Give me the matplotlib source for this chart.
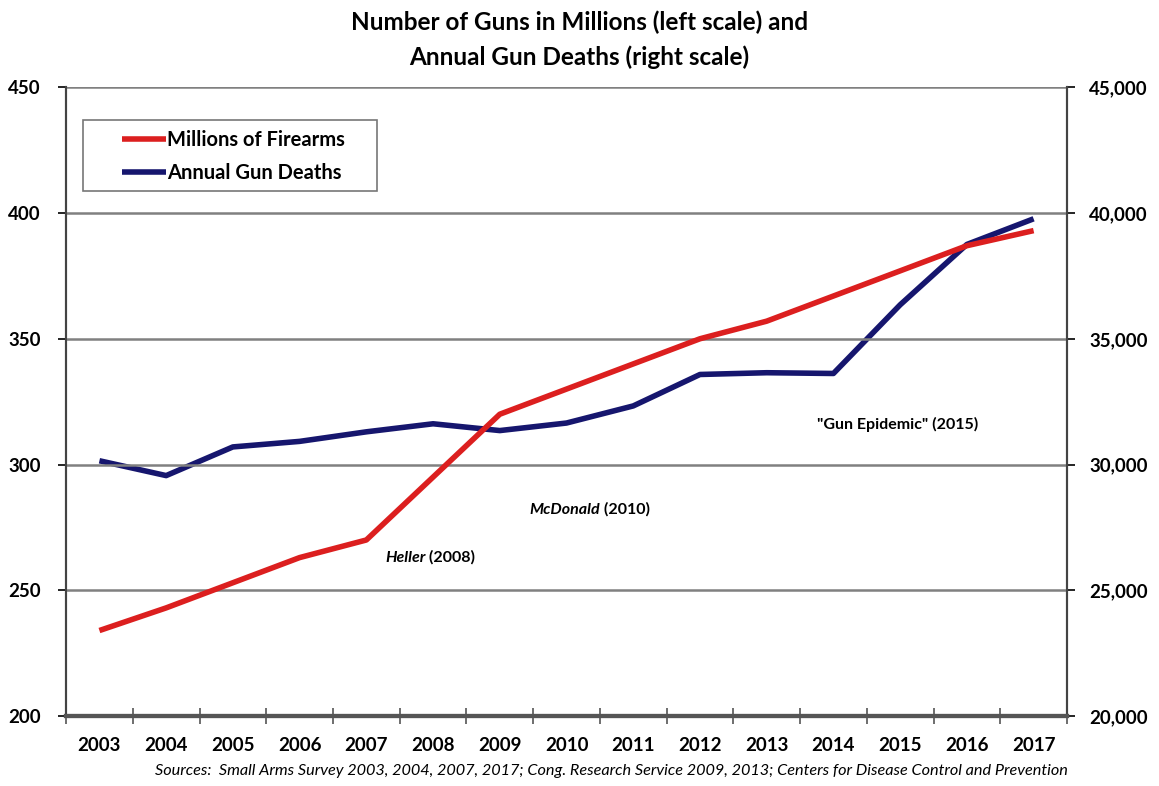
import numpy as np
import matplotlib.pyplot as plt
from matplotlib.patches import Rectangle

plt.rcParams['font.family'] = ['Lato', 'DejaVu Sans']

years = ['2003', '2004', '2005', '2006', '2007', '2008', '2009', '2010',
         '2011', '2012', '2013', '2014', '2015', '2016', '2017']
firearms = [234, 243, 253, 263, 270, 295, 320, 330, 340, 350, 357, 367, 377, 387, 393]
deaths = [30150, 29560, 30700, 30920, 31300, 31620, 31350, 31650, 32330, 33580,
          33650, 33620, 36350, 38750, 39770]

x = np.arange(len(years))

fig = plt.figure(figsize=(11.59, 7.86), dpi=100)
ax = fig.add_axes([0.057, 0.089, 0.8636, 0.8])
ax2 = ax.twinx()

red = '#dc1f1f'
navy = '#16166e'

l1, = ax.plot(x, firearms, color=red, lw=4, solid_capstyle='butt', zorder=3,
              label='Millions of Firearms')
l2, = ax2.plot(x, deaths, color=navy, lw=4, solid_capstyle='butt', zorder=3,
               label='Annual Gun Deaths')

ax.set_xlim(-0.5, len(years) - 0.5)
ax.set_ylim(200, 450)
ax2.set_ylim(20000, 45000)
ax.set_yticks([200, 250, 300, 350, 400, 450])
ax2.set_yticks([20000, 25000, 30000, 35000, 40000, 45000])
ax2.set_yticklabels(['{:,}'.format(v) for v in ax2.get_yticks().astype(int)])

# gridlines from left scale
for v in [250, 300, 350, 400, 450]:
    ax.axhline(v, color='#808080', lw=1.8, zorder=1)

ax.set_xticks(x)
ax.set_xticklabels(years, fontsize=13.5, fontweight='bold')
ax.set_xticks(np.arange(-0.5, len(years)), minor=True)
ax.tick_params(axis='x', which='major', length=0, pad=15)
ax.tick_params(axis='x', which='minor', direction='inout', length=12, width=1.2, color='#555555')
ax.tick_params(axis='y', direction='out', length=6, width=1.2, labelsize=13.5, pad=12)
ax2.tick_params(axis='y', direction='out', length=6, width=1.2, labelsize=13.5, pad=10)
for lab in ax.get_yticklabels() + ax2.get_yticklabels():
    lab.set_fontweight('bold')

for a in (ax, ax2):
    a.spines['top'].set_visible(False)
    a.spines['left'].set_color('#444444')
    a.spines['right'].set_color('#444444')
    a.spines['left'].set_linewidth(1.5)
    a.spines['right'].set_linewidth(1.5)
    a.spines['bottom'].set_color('#555555')
    a.spines['bottom'].set_linewidth(3)

ax.set_zorder(ax2.get_zorder() + 1)
ax.patch.set_visible(False)

# legend box drawn separately so the entries can sit inset like the original
ax.add_patch(Rectangle((0.017, 0.835), 0.294, 0.113, transform=ax.transAxes,
                       facecolor='white', edgecolor='#777777', lw=1.2, zorder=4))
leg = ax.legend([l1, l2], ['Millions of Firearms', 'Annual Gun Deaths'],
                loc='upper left', bbox_to_anchor=(0.056, 0.932), frameon=False,
                handlelength=2.2, handletextpad=0.05,
                borderpad=0, labelspacing=0.65, borderaxespad=0,
                prop={'size': 14.5, 'weight': 'bold'})
leg.set_zorder(5)

# case annotations
notes = [(4.28, 263, 'Heller', ' (2008)'),
         (6.45, 282, 'McDonald', ' (2010)'),
         (10.75, 316, '"Gun Epidemic"', ' (2015)')]
for nx, ny, first, rest in notes:
    if first.startswith('"'):
        t = ax.text(nx, ny, first + rest, fontsize=11.5, fontweight='bold', va='center')
    else:
        t = ax.text(nx, ny, first, fontsize=11.5, fontweight='bold', style='italic', va='center')
        ax.annotate(rest, xy=(1, 0.5), xycoords=t, va='center', ha='left',
                    fontsize=11.5, fontweight='bold')

fig.text(0.5, 0.986, 'Number of Guns in Millions (left scale) and\nAnnual Gun Deaths (right scale)',
         ha='center', va='top', fontsize=17.5, fontweight='bold', linespacing=1.55)
fig.text(0.921, 0.01, 'Sources:  Small Arms Survey 2003, 2004, 2007, 2017; Cong. Research Service 2009, 2013; '
         'Centers for Disease Control and Prevention', ha='right', va='bottom',
         fontsize=11.7, style='italic')

fig.savefig('out.png', dpi=100)
